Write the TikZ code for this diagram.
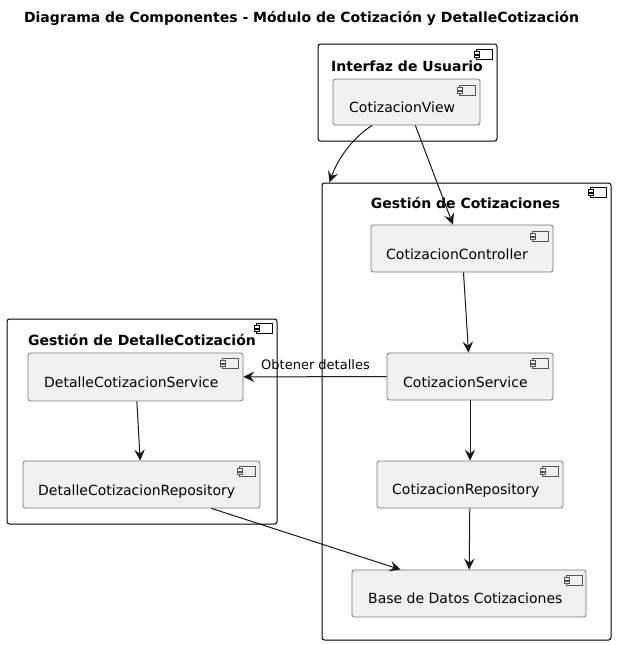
\documentclass[tikz,border=0pt]{standalone}
\usepackage{fontspec}
\setmainfont{DejaVu Sans}
\usetikzlibrary{arrows.meta,calc}
\definecolor{compfill}{HTML}{F1F1F1}
\definecolor{compline}{HTML}{181818}
\definecolor{compedge}{HTML}{777777}
\definecolor{iconedge}{HTML}{555555}
\tikzset{
  x=1pt,y=-1pt,
  groupbox/.style={draw=black,line width=1pt,rounded corners=2.5pt,fill=white,inner sep=0pt},
  compbox/.style={draw=compedge,line width=0.8pt,rounded corners=2.5pt,fill=compfill,inner sep=0pt},
  boxlabel/.style={font=\fontsize{14}{16}\selectfont,inner sep=0pt,anchor=base west},
  grouplabel/.style={font=\fontsize{14}{16}\selectfont\bfseries,inner sep=0pt,anchor=base},
  iconline/.style={line width=0.5pt},
  flow/.style={draw=compline,line width=1pt,-{Stealth[length=11pt,width=10.5pt,inset=4pt]}}
}
\newcommand{\boxat}[6]{%
  \node[#6,minimum width={(#4-#2)*1pt},minimum height={(#5-#3)*1pt}] (#1) at ({(#2+#4)/2},{(#3+#5)/2}) {};
}
\newcommand{\icon}[3]{% right, top, colour
  \draw[iconline,draw=#3] ({#1-16},{#2}) rectangle ({#1},{#2+10});
  \draw[iconline,draw=#3,fill=white] ({#1-18},{#2+2}) rectangle ({#1-13},{#2+4.5});
  \draw[iconline,draw=#3,fill=white] ({#1-18},{#2+5.5}) rectangle ({#1-13},{#2+8});
}
\begin{document}
\begin{tikzpicture}
\useasboundingbox (0,0) rectangle (616,645);
\fill[white] (0,0) rectangle (616,645);
\node[font=\fontsize{14}{16}\selectfont\bfseries,inner sep=0pt,anchor=base] (title) at (301.5,23) {Diagrama de Componentes - Módulo de Cotización y DetalleCotización};

% groups
\boxat{ui}{318}{44}{497}{141}{groupbox}
\boxat{gc}{322}{183}{611}{640}{groupbox}
\boxat{gd}{7}{319}{277}{524}{groupbox}
\icon{492}{49.5}{black}
\icon{606}{187.5}{black}
\icon{272}{323.5}{black}
\node[grouplabel] (uilabel) at (407,71) {Interfaz de Usuario};
\node[grouplabel] (gclabel) at (465.5,208.5) {Gestión de Cotizaciones};
\node[grouplabel] (gdlabel) at (142,345) {Gestión de DetalleCotización};

% components
\boxat{view}{333}{79}{480}{125}{compbox}
\boxat{ctrl}{371}{225}{553}{272}{compbox}
\boxat{serv}{387}{353}{553}{400}{compbox}
\boxat{repo}{377}{461}{563}{508}{compbox}
\boxat{base}{352}{570}{586}{617}{compbox}
\boxat{dserv}{28}{353}{243}{401}{compbox}
\boxat{drepo}{23}{461}{260}{508}{compbox}
\icon{475.5}{85.5}{iconedge}
\icon{548}{231.5}{iconedge}
\icon{548}{358.5}{iconedge}
\icon{558.5}{466.5}{iconedge}
\icon{582.5}{575.5}{iconedge}
\icon{238.5}{358.5}{iconedge}
\icon{255.5}{466.5}{iconedge}
\node[boxlabel] (viewt) at (349,112) {CotizacionView};
\node[boxlabel] (ctrlt) at (386,259) {CotizacionController};
\node[boxlabel] (servt) at (403,387.5) {CotizacionService};
\node[boxlabel] (repot) at (392,494.5) {CotizacionRepository};
\node[boxlabel] (baset) at (368,603) {Base de Datos Cotizaciones};
\node[boxlabel] (dservt) at (44,387) {DetalleCotizacionService};
\node[boxlabel] (drepot) at (38,495) {DetalleCotizacionRepository};

% connectors
\draw[flow] ($(view.south)+(-34.5,0)$) .. controls (350,140) and (337,161) .. ($(gc.north west)+(8,0)$);
\draw[flow] (view) -- (ctrl);
\draw[flow] (ctrl) -- (serv);
\draw[flow] (serv) -- (repo);
\draw[flow] (repo) -- (base);
\draw[flow] (serv) -- (dserv);
\draw[flow] (dserv) -- (drepo);
\draw[flow] ($(drepo.south east)+(-49,0)$) -- ($(base.north west)+(49,0)$);
\node[font=\fontsize{13}{15}\selectfont,inner sep=0pt,anchor=base] (obt) at (315.5,369.5) {Obtener detalles};
\end{tikzpicture}
\end{document}
